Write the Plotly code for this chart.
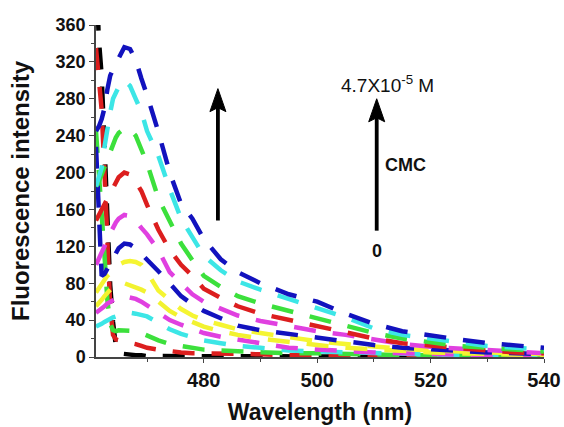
import plotly.graph_objects as go

# ---- data ----
wavelength = [461, 461.5, 462, 462.5, 463, 463.5, 464, 464.5, 465, 466, 467, 468, 469, 470,
              472, 474, 476, 478, 480, 483, 486, 490, 495, 500, 505, 510, 515, 520, 525,
              530, 535, 540]

black = [420, 345, 305, 225, 140, 78, 38, 12, 4, 3, 2, 2, 2, 1,
         1, 1, 1, 1, 1, 1, 1, 1, 1, 1, 1, 1, 1, 0, 0, 0, 0, 0]
red_2 = [335, 300, 268, 200, 125, 55, 24, 19, 18, 17, 16, 14, 12, 10,
         8, 6, 5, 4, 4, 3, 3, 3, 2, 2, 2, 2, 2, 1, 1, 1, 1, 1]
green_2 = [245, 205, 165, 110, 62, 36, 29, 28, 29, 29, 29, 28, 26, 23,
           18, 14, 12, 10, 8, 7, 6, 5, 4, 4, 3, 3, 2, 2, 2, 2, 1, 1]
cyan_2 = [33, 34, 36, 38, 40, 42, 43, 44, 46, 47, 48, 47, 46, 44,
          37, 30, 25, 22, 18, 15, 12, 10, 7, 6, 5, 4, 3, 3, 2, 2, 2, 1]
magenta_2 = [48, 50, 53, 55, 58, 60, 62, 63, 65, 66, 65, 63, 60, 56,
             47, 40, 35, 31, 26, 22, 19, 14, 10, 8, 6, 5, 4, 3, 3, 2, 2, 2]
yellow_2 = [55, 58, 62, 66, 70, 73, 76, 78, 80, 80, 78, 76, 73, 70,
            60, 50, 43, 38, 33, 28, 24, 20, 16, 13, 10, 8, 6, 5, 4, 3, 3, 2]
yellow_1 = [70, 75, 80, 84, 88, 91, 95, 97, 100, 103, 104, 103, 100, 92,
            72, 62, 52, 45, 40, 35, 30, 26, 21, 17, 14, 11, 9, 7, 6, 5, 4, 3]
blue_2 = [228, 160, 88, 90, 96, 100, 108, 112, 118, 123, 122, 118, 112, 105,
          93, 80, 66, 57, 50, 42, 34, 29, 25, 21, 16, 13, 10, 8, 6, 5, 4, 3]
magenta_1 = [100, 106, 112, 120, 128, 135, 142, 146, 150, 154, 153, 148, 140, 133,
             116, 92, 80, 68, 60, 52, 45, 39, 33, 28, 24, 19, 14, 11, 9, 7, 5, 4]
red_1 = [148, 154, 160, 166, 172, 178, 185, 190, 195, 200, 198, 190, 180, 165,
         138, 116, 100, 88, 74, 64, 55, 47, 40, 33, 27, 20, 15, 12, 9, 7, 5, 4]
green_1 = [185, 190, 198, 206, 215, 224, 232, 238, 243, 248, 247, 240, 225, 210,
           172, 148, 123, 105, 88, 76, 66, 58, 50, 42, 34, 26, 20, 16, 12, 10, 8, 6]
cyan_1 = [185, 195, 205, 228, 250, 265, 280, 288, 293, 300, 294, 280, 266, 245,
          218, 182, 150, 130, 110, 94, 82, 73, 63, 53, 43, 31, 24, 20, 16, 12, 10, 8]
blue_1 = [245, 250, 258, 270, 290, 305, 312, 318, 326, 336, 334, 322, 302, 284,
          244, 200, 166, 150, 128, 106, 92, 80, 68, 60, 47, 36, 28, 23, 19, 15, 12, 10]

series = [black, red_2, green_2, cyan_2, magenta_2, yellow_2, yellow_1,
          blue_2, magenta_1, red_1, green_1, cyan_1, blue_1]
colors = ["#000000", "#DC1E1E", "#3CE03C", "#3CE6E6", "#E040E0", "#F2F230", "#F5F532",
          "#1212BE", "#E040E0", "#DC1E1E", "#3CE03C", "#3CE6E6", "#1212BE"]

x_ticks = [480, 500, 520, 540]
x_minor = [470, 490, 510, 530]
y_ticks = [0, 40, 80, 120, 160, 200, 240, 280, 320, 360]
y_minor = [20, 60, 100, 140, 180, 220, 260, 300, 340]

fig = go.Figure()
for vals, col in zip(series, colors):
    fig.add_trace(go.Scatter(x=wavelength, y=vals, mode="lines",
                             line=dict(color=col, width=4.5, dash="22px,17px"),
                             showlegend=False, hoverinfo="skip"))

axis_col = "#444444"
fig.update_layout(
    width=564, height=427,
    margin=dict(l=96, r=20, t=25, b=70),
    paper_bgcolor="white", plot_bgcolor="white",
    font=dict(family="Liberation Sans, Arial, sans-serif", color="#111111"),
    xaxis=dict(range=[461, 540], tickmode="array", tickvals=x_ticks,
               ticktext=[str(v) for v in x_ticks], automargin=False,
               ticks="outside", ticklen=4, tickwidth=1.2, tickcolor=axis_col,
               showline=True, linecolor=axis_col, linewidth=1.5,
               showgrid=False, zeroline=False,
               minor=dict(tickvals=x_minor, ticks="outside", ticklen=3, tickcolor=axis_col),
               tickfont=dict(size=20, weight="bold", color="#111111"),
               title=dict(text="Wavelength (nm)", standoff=14,
                          font=dict(size=23, weight="bold", color="#111111"))),
    yaxis=dict(range=[0, 360], tickmode="array", tickvals=y_ticks,
               ticktext=[str(v) for v in y_ticks], automargin=False,
               ticks="outside", ticklen=5, tickwidth=1.2, tickcolor=axis_col,
               showline=True, linecolor=axis_col, linewidth=1.5,
               showgrid=False, zeroline=False,
               minor=dict(tickvals=y_minor, ticks="outside", ticklen=3, tickcolor=axis_col),
               tickfont=dict(size=18, weight="bold", color="#111111"),
               title=dict(text="Fluorescence intensity", standoff=19,
                          font=dict(size=24, weight="bold", color="#111111"))),
)

# arrows (shaft in data coords, head as a pixel-sized path anchored at the tip)
for ax_x, tip, tail in [(482.5, 291, 148), (510.5, 280, 137)]:
    fig.add_shape(type="line", xref="x", yref="y", x0=ax_x, x1=ax_x, y0=tail, y1=tip - 18,
                  line=dict(color="#000000", width=3.8))
    fig.add_shape(type="path", xref="x", yref="y", xsizemode="pixel", ysizemode="pixel",
                  xanchor=ax_x, yanchor=tip, path="M0,0 L-8,-23 L0,-19 L8,-23 Z",
                  fillcolor="#000000", line=dict(color="#000000", width=1))

# labels
fig.add_annotation(text="4.7X10<sup>-5</sup> M", x=512.4, y=296.5, xref="x", yref="y",
                   showarrow=False, font=dict(size=19, color="#111111"))
fig.add_annotation(text="CMC", x=515.6, y=207.8, xref="x", yref="y",
                   showarrow=False, font=dict(size=18, weight="bold", color="#111111"))
fig.add_annotation(text="0", x=510.6, y=114.7, xref="x", yref="y",
                   showarrow=False, font=dict(size=18, weight="bold", color="#111111"))

fig.write_html("out.html")
